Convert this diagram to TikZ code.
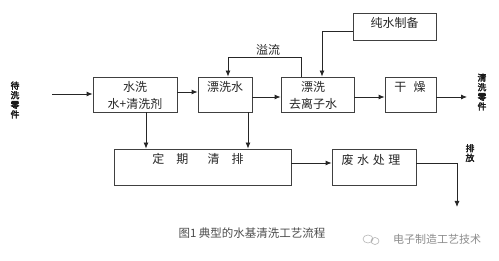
\documentclass[tikz,border=0pt]{standalone}
\usepackage{fontspec}
\newfontfamily\cjk{Noto Sans CJK SC}
\newfontfamily\cjkb[FakeBold=3]{Noto Sans CJK SC}
\usetikzlibrary{arrows.meta}
\begin{document}
\begin{tikzpicture}[x=1pt,y=-1pt,
  box/.style={draw=black!75,line width=0.8pt,inner sep=0pt},
  lbl/.style={font=\cjk\fontsize{12}{14}\selectfont,inner sep=0pt,text=black!85},
  vlbl/.style={font=\cjkb\fontsize{8.8}{9.6}\selectfont,inner sep=0pt,align=center,text=black!90},
  arr/.style={draw=black!85,line width=0.8pt,-{Latex[length=6pt,width=5pt]}},
  ln/.style={draw=black!85,line width=0.8pt}]
\useasboundingbox (0,0) rectangle (499,261);
% boxes
\node[box,minimum width=84pt,minimum height=35pt] (wash) at (135,94.5) {};
\node[box,minimum width=54pt,minimum height=35pt] (rinse1) at (225,94.5) {};
\node[box,minimum width=73pt,minimum height=35pt] (rinse2) at (317.5,94.5) {};
\node[box,minimum width=51pt,minimum height=35pt] (dry) at (410.5,94.5) {};
\node[box,minimum width=83pt,minimum height=27pt] (pure) at (394.5,26.5) {};
\node[box,minimum width=177pt,minimum height=36pt] (regular) at (202.5,167) {};
\node[box,minimum width=84pt,minimum height=36pt] (waste) at (374,167) {};
% texts
\node[lbl] (t1) at (135,87) {水洗};
\node[lbl] (t2) at (135,103.5) {水+清洗剂};
\node[lbl] (t3) at (225,87) {漂洗水};
\node[lbl] (t4) at (313,87) {漂洗};
\node[lbl] (t5) at (313,104) {去离子水};
\node[lbl] (t6) at (410,87) {干\hspace{0.6em}燥};
\node[lbl] (t7) at (394.5,23) {纯水制备};
\node[lbl] (t8) at (198,159) {定\hspace{1em}期\hspace{1.6em}清\hspace{1em}排};
\node[lbl] (t9) at (371,160) {废\hspace{0.3em}水\hspace{0.3em}处\hspace{0.3em}理};
\node[lbl] (t10) at (268,50) {溢流};
\node[vlbl] (vin) at (15,100) {待\\洗\\零\\件};
\node[vlbl] (vout) at (482,92) {清\\洗\\零\\件};
\node[vlbl] (vdis) at (470,153) {排\\放};
\node[font=\cjk\fontsize{11.5}{13}\selectfont,text=black!70,inner sep=0pt] (cap) at (252,233) {图1 典型的水基清洗工艺流程};
\node[font=\cjk\fontsize{11}{13}\selectfont,text=black!45,inner sep=0pt] (wm) at (437,239) {电子制造工艺技术};
\draw[black!30,line width=0.6pt] (368,239) ellipse (5pt and 4pt) (375,241) ellipse (4pt and 3.5pt);
% coordinates
\coordinate (inL) at (52,94);
\coordinate (outR) at (467,97);
\coordinate (ya) at (0,92);
\coordinate (yb) at (0,97);
\coordinate (yp) at (0,31);
\coordinate (xp) at (322,0);
\coordinate (ov1) at (301,57);
\coordinate (ov2) at (228,57);
\coordinate (xw) at (146,0);
\coordinate (xr) at (248,0);
\coordinate (yc) at (0,163);
\coordinate (dis1) at (457,163);
\coordinate (dis2) at (457,207);
% connectors
\draw[arr] (inL) -- (inL-|wash.west);
\draw[arr] (wash.east|-ya) -- (rinse1.west|-ya);
\draw[arr] (rinse1.east|-yb) -- (rinse2.west|-yb);
\draw[arr] (rinse2.east|-yb) -- (dry.west|-yb);
\draw[arr] (dry.east|-yb) -- (outR);
\draw[arr] (pure.west|-yp) -| (rinse2.north-|xp);
\draw[arr] (rinse2.north-|ov1) -- (ov1) -- (ov2) -- (rinse1.north-|ov2);
\draw[arr] (wash.south-|xw) -- (regular.north-|xw);
\draw[arr] (rinse1.south-|xr) -- (regular.north-|xr);
\draw[arr] (regular.east|-yc) -- (waste.west|-yc);
\draw[ln] (waste.east|-yc) -- (dis1);
\draw[arr] (dis1) -- (dis2);
\end{tikzpicture}
\end{document}
